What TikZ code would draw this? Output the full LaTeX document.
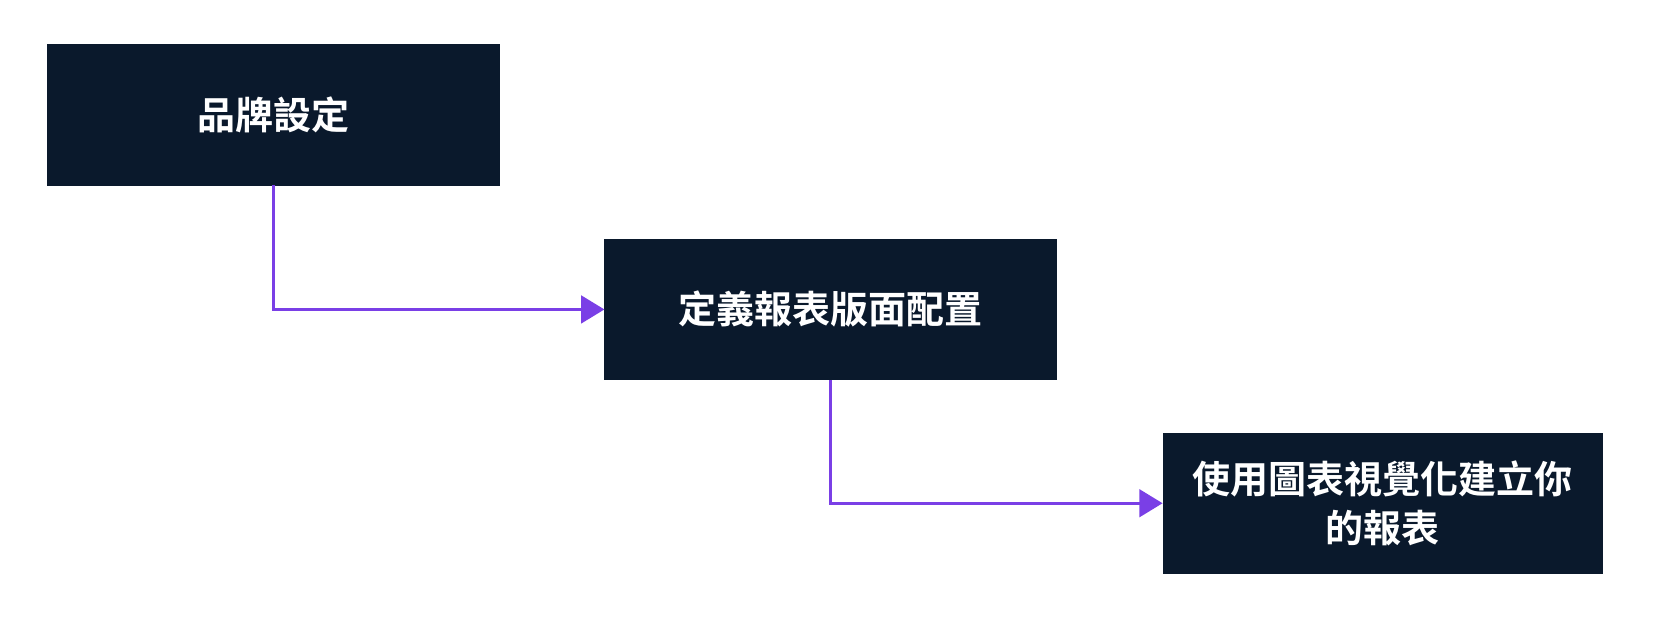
\documentclass[tikz,border=0pt]{standalone}
\usepackage{fontspec}
\setmainfont{Noto Sans CJK TC}[BoldFont={* Bold}]
\usetikzlibrary{arrows.meta}
\definecolor{boxnavy}{HTML}{0A192C}
\definecolor{linkpurple}{HTML}{7A3FE6}
\begin{document}
\begin{tikzpicture}[x=1pt,y=-1pt,
  stepbox/.style={draw=boxnavy,fill=boxnavy,text=white,minimum width=428pt,minimum height=133pt,inner sep=0pt,align=center,font=\fontsize{36}{47}\selectfont\bfseries},
  link/.style={draw=linkpurple,line width=3pt,-{Triangle[length=22pt,width=26pt]}}]
\useasboundingbox (0,0) rectangle (1568,591);
\fill[white] (0,0) rectangle (1568,591);
\node[stepbox] (b1) at (259,108.5) {品牌設定};
\node[stepbox] (b2) at (786.5,293) {定義報表版面配置};
\node[stepbox,minimum width=416pt] (b3) at (1309,476.5) {使用圖表視覺化建立你\\的報表};
\draw[link] (b1.south) |- (b2.west);
\draw[link] (b2.south) |- (b3.west);
\end{tikzpicture}
\end{document}
